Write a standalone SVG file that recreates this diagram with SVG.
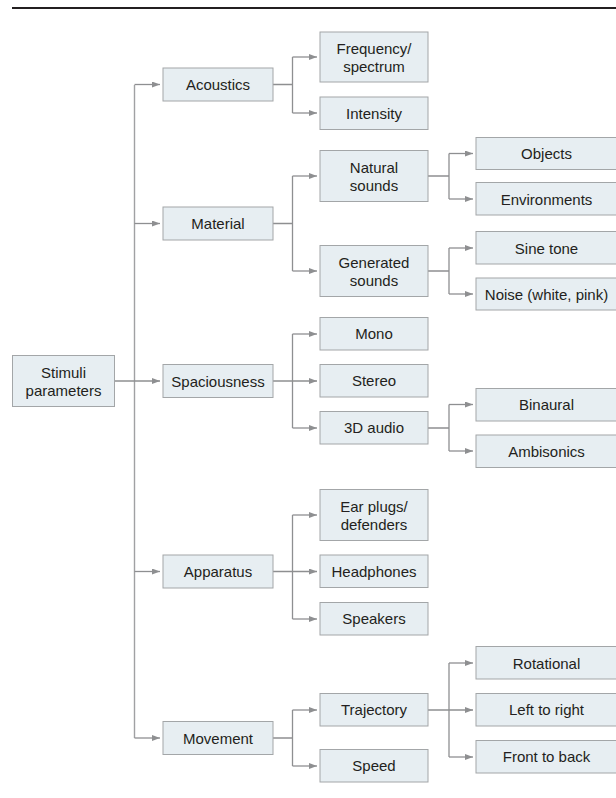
<svg xmlns="http://www.w3.org/2000/svg" width="616" height="798" viewBox="0 0 616 798">
<style>
.b{fill:#e7eef2;stroke:#a3a6a8;stroke-width:1}
.t{font-family:"Liberation Sans",Arial,sans-serif;font-size:15px;fill:#231f20;text-anchor:middle}
.c{fill:none;stroke:#8e8f91;stroke-width:1.3}
.k{fill:none;stroke:#a0a1a3;stroke-width:1.4}
</style>
<defs>
<marker id="ah" markerUnits="userSpaceOnUse" markerWidth="8" markerHeight="6" refX="8" refY="3" orient="auto">
<path d="M0,0 L8,3 L0,6 z" fill="#8e8f91"/>
</marker>
</defs>
<line x1="12" y1="8" x2="616" y2="8" stroke="#231f20" stroke-width="2"/>
<g id="connectors">
<path class="k" d="M134.5,85 V738"/>
<path class="c" d="M114,381 H160" marker-end="url(#ah)"/>
<path class="c" d="M134.5,84.5 H160" marker-end="url(#ah)"/>
<path class="c" d="M134.5,223.5 H160" marker-end="url(#ah)"/>
<path class="c" d="M134.5,571.5 H160" marker-end="url(#ah)"/>
<path class="c" d="M134.5,738 H160" marker-end="url(#ah)"/>
<path class="c" d="M273,84.5 H292.5 M292.5,57 V113"/>
<path class="c" d="M292.5,57 H317" marker-end="url(#ah)"/>
<path class="c" d="M292.5,113 H317" marker-end="url(#ah)"/>
<path class="c" d="M273,223.5 H292.5 M292.5,176 V271"/>
<path class="c" d="M292.5,176 H317" marker-end="url(#ah)"/>
<path class="c" d="M292.5,271 H317" marker-end="url(#ah)"/>
<path class="c" d="M292.5,334 V428"/>
<path class="c" d="M292.5,334 H317" marker-end="url(#ah)"/>
<path class="c" d="M273,381 H317" marker-end="url(#ah)"/>
<path class="c" d="M292.5,428 H317" marker-end="url(#ah)"/>
<path class="c" d="M292.5,515 V619"/>
<path class="c" d="M292.5,515 H317" marker-end="url(#ah)"/>
<path class="c" d="M273,571.5 H317" marker-end="url(#ah)"/>
<path class="c" d="M292.5,619 H317" marker-end="url(#ah)"/>
<path class="c" d="M273,738 H292.5 M292.5,710 V766"/>
<path class="c" d="M292.5,710 H317" marker-end="url(#ah)"/>
<path class="c" d="M292.5,766 H317" marker-end="url(#ah)"/>
<path class="c" d="M428,176 H449 M449,153.5 V199"/>
<path class="c" d="M449,153.5 H473" marker-end="url(#ah)"/>
<path class="c" d="M449,199 H473" marker-end="url(#ah)"/>
<path class="c" d="M428,271 H449 M449,248 V294"/>
<path class="c" d="M449,248 H473" marker-end="url(#ah)"/>
<path class="c" d="M449,294 H473" marker-end="url(#ah)"/>
<path class="c" d="M428,428 H449 M449,404.5 V451"/>
<path class="c" d="M449,404.5 H473" marker-end="url(#ah)"/>
<path class="c" d="M449,451 H473" marker-end="url(#ah)"/>
<path class="c" d="M449,663 V757"/>
<path class="c" d="M449,663 H473" marker-end="url(#ah)"/>
<path class="c" d="M428,710 H473" marker-end="url(#ah)"/>
<path class="c" d="M449,757 H473" marker-end="url(#ah)"/>
</g>
<g id="stimuli"><rect class="b" x="12.5" y="355.5" width="102" height="51"/><text class="t" x="63.5" y="377.5">Stimuli</text><text class="t" x="63.5" y="395.5">parameters</text></g>
<g id="acoustics"><rect class="b" x="163" y="68" width="110" height="33"/><text class="t" x="218" y="90">Acoustics</text></g>
<g id="material"><rect class="b" x="163" y="207" width="110" height="33"/><text class="t" x="218" y="229">Material</text></g>
<g id="spaciousness"><rect class="b" x="163" y="364.5" width="110" height="33"/><text class="t" x="218" y="386.5">Spaciousness</text></g>
<g id="apparatus"><rect class="b" x="163" y="555" width="110" height="33"/><text class="t" x="218" y="577">Apparatus</text></g>
<g id="movement"><rect class="b" x="163" y="721.5" width="110" height="33"/><text class="t" x="218" y="743.5">Movement</text></g>
<g id="frequency"><rect class="b" x="320" y="32" width="108" height="50"/><text class="t" x="374" y="53.5">Frequency/</text><text class="t" x="374" y="71.5">spectrum</text></g>
<g id="intensity"><rect class="b" x="320" y="97" width="108" height="32.5"/><text class="t" x="374" y="118.5">Intensity</text></g>
<g id="natural"><rect class="b" x="320" y="150.5" width="108" height="51"/><text class="t" x="374" y="172.5">Natural</text><text class="t" x="374" y="190.5">sounds</text></g>
<g id="generated"><rect class="b" x="320" y="245.5" width="108" height="51"/><text class="t" x="374" y="267.5">Generated</text><text class="t" x="374" y="285.5">sounds</text></g>
<g id="mono"><rect class="b" x="320" y="317.5" width="108" height="32.5"/><text class="t" x="374" y="339">Mono</text></g>
<g id="stereo"><rect class="b" x="320" y="364.5" width="108" height="32.5"/><text class="t" x="374" y="386">Stereo</text></g>
<g id="audio3d"><rect class="b" x="320" y="411.5" width="108" height="32.5"/><text class="t" x="374" y="433">3D audio</text></g>
<g id="earplugs"><rect class="b" x="320" y="489.5" width="108" height="51"/><text class="t" x="374" y="511.5">Ear plugs/</text><text class="t" x="374" y="529.5">defenders</text></g>
<g id="headphones"><rect class="b" x="320" y="555" width="108" height="32.5"/><text class="t" x="374" y="576.5">Headphones</text></g>
<g id="speakers"><rect class="b" x="320" y="602.5" width="108" height="32.5"/><text class="t" x="374" y="624">Speakers</text></g>
<g id="trajectory"><rect class="b" x="320" y="693.5" width="108" height="32.5"/><text class="t" x="374" y="715">Trajectory</text></g>
<g id="speed"><rect class="b" x="320" y="749.5" width="108" height="32.5"/><text class="t" x="374" y="771">Speed</text></g>
<g id="objects"><rect class="b" x="476" y="137.5" width="141" height="32"/><text class="t" x="546.5" y="159">Objects</text></g>
<g id="environments"><rect class="b" x="476" y="182.5" width="141" height="32.5"/><text class="t" x="546.5" y="204.5">Environments</text></g>
<g id="sinetone"><rect class="b" x="476" y="231.5" width="141" height="32.5"/><text class="t" x="546.5" y="253.5">Sine tone</text></g>
<g id="noise"><rect class="b" x="476" y="278" width="141" height="32"/><text class="t" x="546.5" y="299.5">Noise (white, pink)</text></g>
<g id="binaural"><rect class="b" x="476" y="388.5" width="141" height="32.5"/><text class="t" x="546.5" y="410">Binaural</text></g>
<g id="ambisonics"><rect class="b" x="476" y="435" width="141" height="32.5"/><text class="t" x="546.5" y="456.5">Ambisonics</text></g>
<g id="rotational"><rect class="b" x="476" y="646.5" width="141" height="32.5"/><text class="t" x="546.5" y="668.5">Rotational</text></g>
<g id="lefttoright"><rect class="b" x="476" y="693.5" width="141" height="32.5"/><text class="t" x="546.5" y="715">Left to right</text></g>
<g id="fronttoback"><rect class="b" x="476" y="740.5" width="141" height="32.5"/><text class="t" x="546.5" y="762">Front to back</text></g>
</svg>
